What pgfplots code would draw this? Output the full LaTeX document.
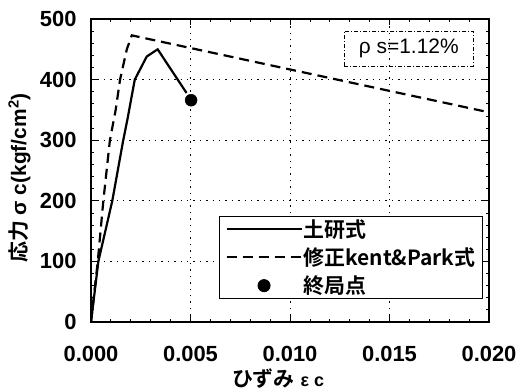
\documentclass[border=0pt]{standalone}
\usepackage{fontspec}
\setmainfont{Liberation Sans}
\newfontfamily\cjk{Noto Sans CJK JP}[BoldFont={Noto Sans CJK JP Bold}]
\usepackage{pgfplots}
\pgfplotsset{compat=1.18}
\begin{document}
\begin{tikzpicture}
\useasboundingbox (-91bp,-70bp) rectangle (441bp,322bp);
\begin{axis}[
  at={(0,0)}, anchor=south west,
  scale only axis, width=398bp, height=303bp,
  xmin=0, xmax=0.02, ymin=0, ymax=500,
  xtick={0,0.005,0.01,0.015,0.02},
  ytick={0,100,200,300,400,500},
  scaled x ticks=false,
  xticklabel style={/pgf/number format/fixed, /pgf/number format/fixed zerofill, /pgf/number format/precision=3, /pgf/number format/assume math mode=true, yshift=-21bp},
  yticklabel style={/pgf/number format/assume math mode=true, xshift=-11bp},
  tick label style={font=\bfseries\fontsize{22}{26}\selectfont},
  tick align=inside,
  major tick length=6bp,
  minor tick length=3bp,
  minor x tick num=4, minor y tick num=4,
  axis line style={line width=1.3bp},
  every tick/.style={black, line width=0.8bp},
  grid=major,
  major grid style={black, line width=1bp, dash pattern=on 1.4bp off 5bp},
  xlabel={{\cjk\bfseries ひずみ} {\fontsize{18}{20}\selectfont ε c}},
  ylabel={{\cjk\bfseries 応力} σ c(kgf/cm$^{\mathbf{2}}$)},
  label style={font=\bfseries\fontsize{21}{24}\selectfont},
  xlabel style={at={(rel axis cs:0.47,-0.188)}, anchor=center},
  ylabel style={at={(rel axis cs:-0.18,0.475)}, anchor=center},
  legend style={at={(rel axis cs:0.985,0.35)}, anchor=north east,
    draw=black, line width=1bp, font=\cjk\bfseries\fontsize{21}{25}\selectfont,
    inner xsep=6bp, inner ysep=2bp, row sep=7bp,
    nodes={inner sep=1bp, anchor=west}},
  legend cell align=left,
  legend image code/.code={\draw[mark repeat=2,mark phase=2,#1] plot coordinates {(0bp,0bp)(37.5bp,0bp)(75bp,0bp)};},
]
\addplot[black, line width=2.2bp] coordinates {
 (0,0) (0.00037,100) (0.00107,200) (0.00162,300) (0.00184,336)
 (0.0022,400) (0.0028,438) (0.00335,450) (0.0048,378)};
\addlegendentry{土研式}
\addplot[black, line width=2.2bp, dash pattern=on 10bp off 6bp] coordinates {
 (0,0) (0.00034,100) (0.00062,200) (0.00095,300) (0.00124,350)
 (0.00146,400) (0.0018,450) (0.00205,473) (0.02,346)};
\addlegendentry{修正kent\&Park式}
\addplot[only marks, mark=*, mark size=6bp, black] coordinates {(0.00503,366)};
\addlegendentry{終局点}
\node[draw=black, line width=0.8bp, dash pattern=on 4bp off 2bp on 1bp off 2bp,
  minimum width=129bp, minimum height=35bp, inner sep=0pt,
  font=\fontsize{21}{24}\selectfont] at (axis cs:0.01597,451) {ρ s=1.12\%};
\end{axis}
\end{tikzpicture}
\end{document}
